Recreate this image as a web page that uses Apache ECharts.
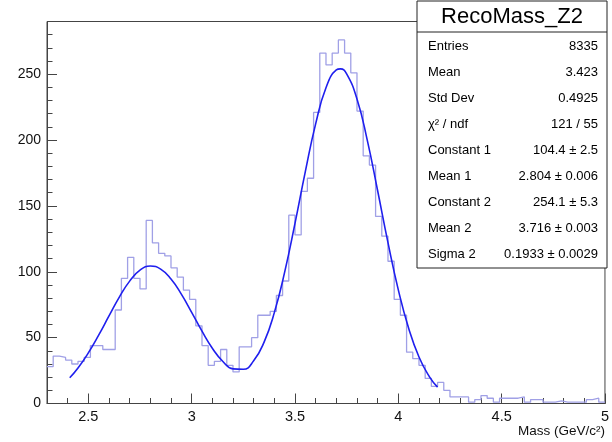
<!DOCTYPE html>
<html>
<head>
<meta charset="utf-8">
<script src="https://cdn.jsdelivr.net/npm/echarts@6/dist/echarts.min.js"></script>
<style>
  html, body { margin: 0; padding: 0; background: #fff; }
  #chart { width: 612px; height: 442px; }
</style>
</head>
<body>
<div id="chart"></div>
<script>
// RecoMass_Z2 histogram, 90 bins of 0.03 from 2.3 to 5.0
var binStart = 2.3
var binWidth = 0.03
var counts = [28, 36, 35, 33, 30, 32, 35, 44, 44, 41,
  41, 71, 95, 111, 95, 87, 139, 122, 114, 112,
  103, 96, 86, 79, 59, 44, 29, 32, 41, 29,
  24, 43, 43, 50, 67, 67, 70, 82, 93, 143,
  128, 161, 171, 221, 266, 257, 266, 276, 266, 251,
  222, 188, 181, 142, 127, 108, 79, 67, 39, 34,
  29, 19, 13, 16, 10, 5, 5, 5, 1, 3,
  6, 4, 1, 4, 4, 4, 5, 1, 3, 3,
  1, 1, 2, 1, 1, 1, 1, 3, 4, 1]

// fit curve (double gaussian) sampled from the plot
var fitX = [2.41, 2.45, 2.5, 2.55, 2.6, 2.65, 2.7, 2.75, 2.8, 2.85, 2.9, 2.95,
  3.0, 3.05, 3.1, 3.15, 3.2, 3.25, 3.3, 3.35, 3.4, 3.45, 3.5, 3.55, 3.6, 3.65,
  3.7, 3.72, 3.75, 3.8, 3.85, 3.9, 3.95, 4.0, 4.05, 4.1, 4.15, 4.19]
var fitY = [19.5, 26.9, 38.4, 51.9, 66.5, 80.8, 92.9, 101.2, 104.4, 102.0, 94.5, 83.0,
  69.2, 54.9, 42.0, 32.1, 26.3, 26.0, 32.4, 46.4, 69.0, 99.7, 136.7, 176.0, 212.3, 239.7,
  253.2, 254.0, 250.2, 231.2, 199.8, 161.5, 122.1, 86.3, 57.1, 35.3, 20.4, 12.4]

// stat box
var statTitle = 'RecoMass_Z2'
var statNames = ['Entries', 'Mean', 'Std Dev', 'χ² / ndf', 'Constant 1', 'Mean 1', 'Constant 2', 'Mean 2', 'Sigma 2']
var statValues = ['8335', '3.423', '0.4925', '121 / 55', '104.4 ± 2.5', '2.804 ± 0.006', '254.1 ± 5.3', '3.716 ± 0.003', '0.1933 ± 0.0029']

var xMin = 2.3, xMax = 5.0
var yMin = 0, yMax = 290

var font = 'Liberation Sans, Arial, Helvetica, sans-serif'
var axisColor = '#444'

// build step outline points
var histData = []
for (var i = 0; i < counts.length; i++) {
  histData.push([+(binStart + i * binWidth).toFixed(2), counts[i]])
}
histData.push([+(binStart + counts.length * binWidth).toFixed(2), counts[counts.length - 1]])

var fitData = []
for (var j = 0; j < fitX.length; j++) {
  fitData.push([fitX[j], fitY[j]])
}

// stat box graphics
var boxLeft = 417, boxTop = 1, boxW = 190, boxH = 267
var graphics = [
  { type: 'rect', shape: { x: boxLeft, y: boxTop, width: boxW, height: boxH },
    style: { fill: '#fff', stroke: '#222', lineWidth: 1 }, z: 10 },
  { type: 'line', shape: { x1: boxLeft, y1: 32, x2: boxLeft + boxW, y2: 32 },
    style: { stroke: '#222', lineWidth: 1 }, z: 11 },
  { type: 'text', x: boxLeft + boxW / 2, y: 17, z: 11,
    style: { text: statTitle, font: '22px ' + font, fill: '#000', textAlign: 'center', textVerticalAlign: 'middle' } }
]
for (var k = 0; k < statNames.length; k++) {
  var rowY = 46 + k * 26.1
  graphics.push({ type: 'text', x: 428, y: rowY, z: 11,
    style: { text: statNames[k], font: '13px ' + font, fill: '#000', textAlign: 'left', textVerticalAlign: 'middle' } })
  graphics.push({ type: 'text', x: 598, y: rowY, z: 11,
    style: { text: statValues[k], font: '13px ' + font, fill: '#000', textAlign: 'right', textVerticalAlign: 'middle' } })
}

var chart = echarts.init(document.getElementById('chart'), null, { renderer: 'canvas' })

var option = {
  animation: false,
  backgroundColor: '#fff',
  grid: {
    left: 47, right: 5, top: 21.5, bottom: 38.5,
    show: true, borderColor: axisColor, borderWidth: 1, backgroundColor: 'transparent'
  },
  xAxis: [
    {
      // major ticks + labels
      type: 'value', position: 'bottom', min: xMin, max: xMax, splitNumber: 5,
      axisLine: { show: true, lineStyle: { color: axisColor, width: 1 } },
      axisTick: { show: true, inside: true, length: 10, lineStyle: { color: axisColor } },
      axisLabel: {
        show: true, margin: 6, color: '#111', fontSize: 14.5, fontFamily: font,
        showMinLabel: false,
        formatter: function (v) {
          return Math.abs(v * 2 - Math.round(v * 2)) < 1e-6 ? String(+v.toFixed(1)) : ''
        }
      },
      splitLine: { show: false },
      name: 'Mass (GeV/c²)', nameLocation: 'end', nameGap: 0,
      nameTextStyle: { fontFamily: font, fontSize: 13.5, color: '#111', align: 'right', verticalAlign: 'top', padding: [21, 0, 0, 0] }
    },
    {
      // minor ticks every 0.1
      type: 'value', position: 'bottom', offset: 0, min: xMin, max: xMax, interval: 0.1,
      axisLine: { show: false },
      axisTick: { show: true, inside: true, length: 5.5, lineStyle: { color: axisColor } },
      axisLabel: { show: false },
      splitLine: { show: false }
    }
  ],
  yAxis: [
    {
      type: 'value', position: 'left', min: yMin, max: yMax, interval: 50,
      axisLine: { show: true, lineStyle: { color: axisColor, width: 1 } },
      axisTick: { show: true, inside: true, length: 10, lineStyle: { color: axisColor } },
      axisLabel: { show: true, margin: 6, color: '#111', fontSize: 14, fontFamily: font, showMaxLabel: false },
      splitLine: { show: false }
    },
    {
      type: 'value', position: 'left', offset: 0, min: yMin, max: yMax, interval: 10,
      axisLine: { show: false },
      axisTick: { show: true, inside: true, length: 5.5, lineStyle: { color: axisColor } },
      axisLabel: { show: false },
      splitLine: { show: false }
    }
  ],
  series: [
    {
      name: 'RecoMass_Z2', type: 'line', step: 'end',
      xAxisIndex: 0, yAxisIndex: 0,
      data: histData, showSymbol: false, symbol: 'none',
      lineStyle: { color: '#a0a0e6', width: 1.3 },
      clip: true, z: 2
    },
    {
      name: 'fit', type: 'line', smooth: true,
      xAxisIndex: 0, yAxisIndex: 0,
      data: fitData, showSymbol: false, symbol: 'none',
      lineStyle: { color: '#1f1fee', width: 1.6 },
      clip: true, z: 3
    }
  ],
  graphic: graphics
}

chart.setOption(option)
</script>
</body>
</html>
